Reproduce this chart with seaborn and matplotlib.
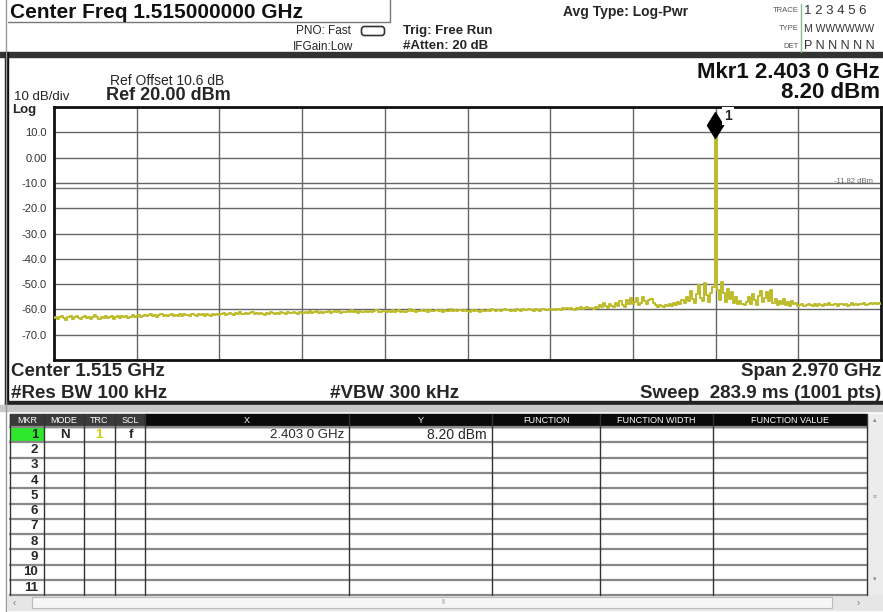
import numpy as np
import seaborn as sns
import matplotlib.pyplot as plt
from matplotlib.patches import Rectangle, FancyBboxPatch
from matplotlib import transforms

# === Trace data (dBm per sweep bin)
START_GHZ = 0.03
STOP_GHZ = 3.0
level_dbm = [
    # 0.03 - 0.33 GHz
    -63.5, -62.9, -63.8, -63.1, -62.6, -63.4, -64.1, -63.0, -62.7, -63.6,
    -63.2, -62.5, -63.3, -63.9, -63.0, -62.8, -63.5, -62.9, -63.7, -63.1,
    -62.4, -63.2, -63.8, -62.9, -63.3, -62.6, -63.5, -63.0, -62.7, -63.6,
    -63.1, -62.5, -63.4, -62.8, -63.2, -62.6, -63.3, -62.9, -62.4, -63.1, -62.7,
    # 0.33 - 0.62 GHz
    -62.3, -63.0, -62.5, -62.1, -62.8, -62.4, -61.9, -62.7, -62.2, -62.9,
    -62.4, -61.8, -62.5, -62.1, -62.7, -62.3, -61.9, -62.6, -62.2, -62.8,
    -62.0, -62.5, -61.7, -62.4, -62.1, -62.7, -61.9, -62.3, -62.6, -61.8,
    -62.4, -62.0, -62.5, -61.9, -62.2, -62.6, -61.8, -62.3, -61.9, -62.4,
    # 0.62 - 0.92 GHz
    -62.0, -61.5, -62.2, -61.8, -61.3, -61.9, -62.1, -61.6, -61.8, -61.2,
    -61.7, -62.0, -61.4, -61.9, -61.6, -61.1, -61.8, -61.5, -61.9, -61.3,
    -61.7, -62.1, -61.4, -61.8, -61.2, -61.6, -61.9, -61.3, -61.7, -61.0,
    -61.5, -61.8, -61.2, -61.6, -61.4, -60.9, -61.5, -61.7, -61.1, -61.4,
    # 0.92 - 1.22 GHz
    -61.6, -61.0, -61.4, -60.8, -61.5, -61.1, -60.6, -61.3, -61.0, -61.6,
    -60.9, -61.2, -60.7, -61.4, -61.0, -60.5, -61.1, -60.8, -61.3, -60.9,
    -61.2, -60.6, -61.0, -60.4, -61.1, -60.8, -61.3, -60.7, -60.9, -61.2,
    -60.5, -60.9, -60.6, -61.1, -60.7, -60.3, -60.9, -61.0, -60.6, -60.8,
    # 1.22 - 1.51 GHz
    -61.1, -60.6, -60.9, -60.3, -61.0, -60.7, -60.2, -60.9, -60.5, -61.1,
    -60.6, -60.0, -60.8, -60.4, -61.0, -60.5, -60.8, -60.2, -60.7, -60.4,
    -60.9, -60.3, -60.6, -60.8, -60.1, -60.7, -60.4, -60.9, -60.2, -60.6,
    -60.5, -60.0, -60.7, -60.3, -60.8, -60.4, -60.1, -60.6, -60.3, -60.7,
    # 1.51 - 1.81 GHz
    -60.9, -60.3, -60.7, -60.1, -60.6, -60.9, -60.2, -60.5, -60.8, -60.3,
    -60.6, -60.0, -60.4, -60.7, -60.1, -60.5, -60.2, -59.8, -60.4, -60.1,
    -60.6, -60.2, -60.5, -59.9, -60.3, -60.7, -60.0, -60.4, -60.1, -59.7,
    -60.3, -60.5, -59.9, -60.2, -60.6, -60.0, -59.8, -60.3, -60.1, -59.9,
    # 1.81 - 2.11 GHz
    -60.2, -59.8, -60.3, -59.7, -60.1, -59.5, -60.0, -59.6, -59.9, -59.3,
    -59.8, -60.1, -59.4, -59.7, -59.2, -59.9, -59.5, -59.0, -59.6, -59.3,
    -59.7, -58.9, -59.4, -58.2, -59.1, -57.6, -58.8, -59.3, -57.9, -58.6,
    -59.2, -57.4, -58.7, -56.8, -58.3, -58.9, -56.1, -57.7, -55.3, -57.9,
    # 2.11 - 2.40 GHz
    -57.0, -55.6, -58.2, -57.4, -55.2, -56.8, -58.0, -56.3, -55.8, -57.6,
    -58.4, -58.9, -58.1, -58.7, -59.2, -58.4, -58.8, -57.9, -58.5, -57.6,
    -58.3, -56.9, -57.8, -56.1, -57.5, -55.0, -56.8, -52.6, -55.9, -57.3,
    -53.8, -50.2, -55.4, -56.7, -49.4, -54.2, -57.1, -53.6, -51.0,
    # carrier
    8.2,
    # 2.41 - 2.70 GHz
    -52.3, -56.4, -49.1, -53.7, -57.2, -51.9, -55.8, -53.0, -57.5, -55.1,
    -58.0, -56.6, -57.8, -58.4, -56.9, -55.2, -57.7, -53.8, -56.3, -58.1,
    -54.6, -52.7, -57.0, -55.3, -53.1, -56.8, -52.5, -57.4, -55.7, -58.2,
    -56.5, -57.9, -55.9, -58.3, -57.2, -58.6, -56.8, -58.0, -57.4, -58.5,
    # 2.70 - 3.00 GHz
    -58.4, -57.9, -58.6, -58.1, -57.7, -58.3, -58.8, -58.0, -58.5, -57.8,
    -58.2, -58.6, -57.9, -58.3, -57.6, -58.1, -58.4, -57.8, -58.6, -58.0,
    -57.7, -58.3, -57.9, -58.5, -58.1, -57.6, -58.2, -57.9, -58.4, -57.7,
    -58.0, -57.5, -58.1, -57.8, -57.3, -57.9, -57.6, -58.0, -57.4, -57.7,
]
assert len(level_dbm) == 401
freq_ghz = np.linspace(START_GHZ, STOP_GHZ, len(level_dbm))

MARKER_FREQ = 2.403
MARKER_LEVEL = 8.20
DISPLAY_LINE = -11.82

y_ticks = [20, 10, 0, -10, -20, -30, -40, -50, -60, -70, -80]
y_tick_labels = ["", "10.0", "0.00", "-10.0", "-20.0", "-30.0", "-40.0",
                 "-50.0", "-60.0", "-70.0", ""]

table_header = ["MKR", "MODE", "TRC", "SCL", "X", "Y",
                "FUNCTION", "FUNCTION WIDTH", "FUNCTION VALUE"]
table_row1 = ["N", "1", "f", "2.403 0 GHz", "8.20 dBm"]
row_numbers = [str(i) for i in range(1, 12)]

TRACE_COLOR = "#bcbc2a"

# === Figure
sns.set_style("white")
plt.rcParams["font.family"] = ["Liberation Sans", "DejaVu Sans"]

W, H = 883, 612
fig = plt.figure(figsize=(W / 100, H / 100), dpi=100)
bg = fig.add_axes([0, 0, 1, 1])
bg.set_xlim(0, W)
bg.set_ylim(H, 0)
bg.axis("off")

# --- header strip
bg.plot([6, 6], [0, 612], color="#999999", lw=1)
bg.text(10, 13, "Center Freq 1.515000000 GHz", fontsize=15,
        weight="bold", va="center", color="#111111")
bg.plot([8, 390], [22, 22], color="#777777", lw=1)
bg.plot([390, 390], [0, 22], color="#777777", lw=1)
bg.text(351, 31, "PNO: Fast", fontsize=8.5, ha="right", va="center")
bg.text(353, 47, "IFGain:Low", fontsize=8.5, ha="right", va="center")
bg.add_patch(FancyBboxPatch((363, 28), 20, 6, boxstyle="round,pad=1.5,rounding_size=3",
                            fill=False, ec="#333333", lw=1.2))
bg.text(403, 31, "Trig: Free Run", fontsize=9.5, weight="bold", va="center")
bg.text(403, 46, "#Atten: 20 dB", fontsize=9.5, weight="bold", va="center")
bg.text(563, 12, "Avg Type: Log-Pwr", fontsize=10, weight="bold", va="center")
bg.text(799, 10, "TRACE", fontsize=5.5, ha="right", va="center", color="#555555")
bg.text(799, 29, "TYPE", fontsize=5.5, ha="right", va="center", color="#555555")
bg.text(799, 46, "DET", fontsize=5.5, ha="right", va="center", color="#555555")
bg.plot([801, 801], [4, 52], color="#88bb88", lw=1)
bg.text(804, 11, "1 2 3 4 5 6", fontsize=9.5, va="center", color="#333333")
bg.text(804, 29, "M WWWWWW", fontsize=7.5, va="center", color="#333333")
bg.text(804, 46, "P N N N N N", fontsize=9, va="center", color="#333333")
bg.add_patch(Rectangle((0, 52), W, 5, color="#333333"))

# --- trace panel frame and texts
bg.add_patch(Rectangle((5, 52), 3, 353, color="#111111"))
bg.add_patch(Rectangle((5, 401), W, 4, color="#222222"))
bg.add_patch(Rectangle((0, 405), W, 6, color="#c8c8c8"))
bg.text(110, 81, "Ref Offset 10.6 dB", fontsize=10, va="center")
bg.text(14, 97, "10 dB/div", fontsize=9.5, va="center")
bg.text(106, 96, "Ref 20.00 dBm", fontsize=13, weight="bold", va="center")
bg.text(12, 110, "Log", fontsize=9.5, weight="bold", va="center")
bg.text(880, 73, f"Mkr1 {MARKER_FREQ:.3f} 0 GHz", fontsize=16, weight="bold",
        ha="right", va="center", color="#111111")
bg.text(880, 93, f"{MARKER_LEVEL:.2f} dBm", fontsize=16, weight="bold",
        ha="right", va="center", color="#111111")
bg.text(11, 372, "Center 1.515 GHz", fontsize=13.5, weight="bold", va="center")
bg.text(11, 394, "#Res BW 100 kHz", fontsize=13.5, weight="bold", va="center")
bg.text(330, 394, "#VBW 300 kHz", fontsize=13.5, weight="bold", va="center")
bg.text(881, 372, "Span 2.970 GHz", fontsize=13.5, weight="bold",
        ha="right", va="center")
bg.text(881, 394, "Sweep  283.9 ms (1001 pts)", fontsize=13.5, weight="bold",
        ha="right", va="center")

# --- graticule
ax = fig.add_axes([54 / W, 1 - 360 / H, 827 / W, 253 / H])
sns.lineplot(x=freq_ghz, y=level_dbm, ax=ax, color=TRACE_COLOR, lw=1.4,
             drawstyle="steps-mid", estimator=None, zorder=3)
ax.set_xlim(START_GHZ, STOP_GHZ)
ax.set_ylim(-80, 20)
ax.set_xticks(np.linspace(START_GHZ, STOP_GHZ, 11))
ax.set_xticklabels([])
ax.set_yticks(y_ticks)
ax.set_yticklabels(y_tick_labels)
ax.tick_params(length=0, pad=5, labelsize=8, labelcolor="#333333")
ax.grid(True, color="#666666", lw=1.0)
for s in ax.spines.values():
    s.set_color("#111111")
    s.set_linewidth(2)
ax.set_xlabel("")
ax.set_ylabel("")

ax.axhline(DISPLAY_LINE, color="#777777", lw=1, zorder=2)
ax.text(0.99, DISPLAY_LINE + 1.0, f"{DISPLAY_LINE:.2f} dBm", fontsize=5.5,
        color="#666666", ha="right", va="bottom",
        transform=transforms.blended_transform_factory(ax.transAxes, ax.transData))

mk = transforms.offset_copy(ax.transData, fig=fig, y=12, units="dots")
ax.plot([MARKER_FREQ], [MARKER_LEVEL], marker="d", ms=13, color="black",
        transform=mk, zorder=5, clip_on=False)
ax.text(MARKER_FREQ, MARKER_LEVEL, "1", fontsize=10, weight="bold",
        transform=transforms.offset_copy(ax.transData, fig=fig, x=9, y=21, units="dots"),
        va="center", ha="left", zorder=6,
        bbox=dict(facecolor="white", edgecolor="none", pad=1.5), clip_on=False)

# --- marker table
col_edges = [10, 44, 84, 115, 145, 349, 492, 600, 713, 867]
head_top, head_bot = 414, 427
row_h = 15.3
table_bot = head_bot + row_h * len(row_numbers)

for i, name in enumerate(table_header):
    x0, x1 = col_edges[i], col_edges[i + 1]
    bg.add_patch(Rectangle((x0, head_top), x1 - x0, head_bot - head_top,
                           color="#3a3a3a" if i < 4 else "#0a0a0a"))
    bg.text((x0 + x1) / 2, (head_top + head_bot) / 2, name, fontsize=6.5,
            color="white", ha="center", va="center")

for k in range(len(row_numbers) + 1):
    yy = head_bot + row_h * k
    bg.plot([col_edges[0], col_edges[-1]], [yy, yy], color="#888888", lw=1.6)
for xx in col_edges:
    bg.plot([xx, xx], [head_top, table_bot], color="#333333", lw=1)

bg.add_patch(Rectangle((col_edges[0] + 1, head_bot + 1), col_edges[1] - col_edges[0] - 2,
                       row_h - 2, color="#2ee82e"))
for k, num in enumerate(row_numbers):
    bg.text(38, head_bot + row_h * (k + 0.5), num, fontsize=9.5, weight="bold",
            ha="right", va="center")
yc = head_bot + row_h * 0.5
bg.text(65, yc, table_row1[0], fontsize=9.5, weight="bold", ha="center", va="center")
bg.text(99, yc, table_row1[1], fontsize=9.5, weight="bold", ha="center", va="center",
        color="#d0d000")
bg.text(131, yc, table_row1[2], fontsize=9.5, weight="bold", ha="center", va="center")
bg.text(344, yc, table_row1[3], fontsize=9.5, ha="right", va="center")
bg.text(487, yc, table_row1[4], fontsize=10, ha="right", va="center")

# --- scrollbars
bg.add_patch(Rectangle((868, head_top), 14, table_bot - head_top, color="#ececec"))
bg.text(875, 421, "\u25b4", fontsize=5, ha="center", va="center", color="#888888")
bg.text(875, 498, "\u2261", fontsize=5, ha="center", va="center", color="#999999")
bg.text(875, 580, "\u25be", fontsize=5, ha="center", va="center", color="#888888")
bg.add_patch(Rectangle((8, 595), 875, 15, color="#e6e6e6"))
bg.add_patch(Rectangle((32, 597), 800, 11, fc="#f6f6f6", ec="#bbbbbb", lw=0.8))
bg.text(14, 603, "\u2039", fontsize=7, ha="center", va="center", color="#777777")
bg.text(858, 603, "\u203a", fontsize=7, ha="center", va="center", color="#777777")
bg.text(443, 603, "\u2016", fontsize=5, ha="center", va="center", color="#999999")

fig.savefig("out.png", dpi=100)
